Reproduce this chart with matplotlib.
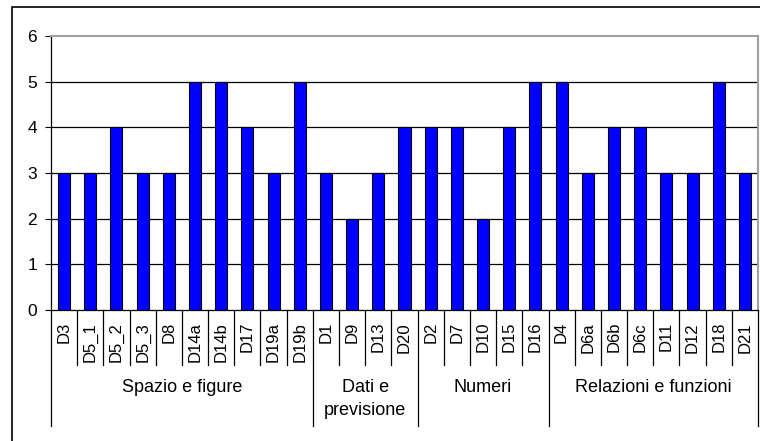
import matplotlib
matplotlib.use("Agg")
from matplotlib import pyplot as plt
from matplotlib.patches import Rectangle
import numpy as np

plt.rcParams['font.family'] = ['Liberation Sans', 'DejaVu Sans']

# data
groups = ["Spazio e figure", "Dati e\nprevisione", "Numeri", "Relazioni e funzioni"]
spazio_labels = ["D3", "D5_1", "D5_2", "D5_3", "D8", "D14a", "D14b", "D17", "D19a", "D19b"]
spazio_values = [3, 3, 4, 3, 3, 5, 5, 4, 3, 5]
dati_labels = ["D1", "D9", "D13", "D20"]
dati_values = [3, 2, 3, 4]
numeri_labels = ["D2", "D7", "D10", "D15", "D16"]
numeri_values = [4, 4, 2, 4, 5]
relazioni_labels = ["D4", "D6a", "D6b", "D6c", "D11", "D12", "D18", "D21"]
relazioni_values = [5, 3, 4, 4, 3, 3, 5, 3]

all_labels = spazio_labels + dati_labels + numeri_labels + relazioni_labels
all_values = spazio_values + dati_values + numeri_values + relazioni_values
group_sizes = [len(spazio_labels), len(dati_labels), len(numeri_labels), len(relazioni_labels)]

W, H = 760, 441
fig = plt.figure(figsize=(W / 100, H / 100), dpi=100, facecolor="white")
ax = fig.add_axes([51 / W, 1 - 310 / H, (758 - 51) / W, (310 - 36) / H])

x = np.arange(len(all_values))
ax.bar(x, all_values, width=0.46, color="#0000ff", edgecolor="black", linewidth=0.8, zorder=3)

ax.set_xlim(-0.5, len(all_values) - 0.5)
ax.set_ylim(0, 6)
ax.set_yticks(range(7))
for yv in range(1, 6):
    ax.axhline(yv, color="black", linewidth=0.9, zorder=1)
ax.tick_params(axis="y", direction="out", length=4, width=0.8, labelsize=12.5, pad=6)
ax.set_xticks([])
for s in ["top", "right"]:
    ax.spines[s].set_color("#a0a0a0")
    ax.spines[s].set_linewidth(1.5)
ax.spines["left"].set_linewidth(0.9)
ax.spines["bottom"].set_linewidth(0.9)
for s in ax.spines.values():
    s.set_zorder(5)

# category tick labels (rotated) and separators
trans = ax.get_xaxis_transform()
px = 1.0 / (310 - 36)  # one pixel in axes fraction (vertical)
for i, lab in enumerate(all_labels):
    ax.text(i, -12 * px, lab, rotation=90, ha="center", va="top", fontsize=12, transform=trans)

bounds = np.cumsum([0] + group_sizes)
for b in range(len(all_values) + 1):
    xb = b - 0.5
    y_end = -116 * px if b in bounds else -55 * px
    ax.plot([xb, xb], [0, y_end], color="black", linewidth=0.9, transform=trans, clip_on=False)

for g, name in enumerate(groups):
    xc = (bounds[g] + bounds[g + 1] - 1) / 2
    ax.text(xc, -69 * px, name, ha="center", va="top", fontsize=13, transform=trans,
            linespacing=1.45)

# outer chart border (cropped on right and bottom)
fig.patches.append(Rectangle((11.5 / W, -0.1), 1.2, 1 - 6.5 / H + 0.1, transform=fig.transFigure,
                             fill=False, edgecolor="black", linewidth=1.2))

fig.savefig("out.png", dpi=100)
